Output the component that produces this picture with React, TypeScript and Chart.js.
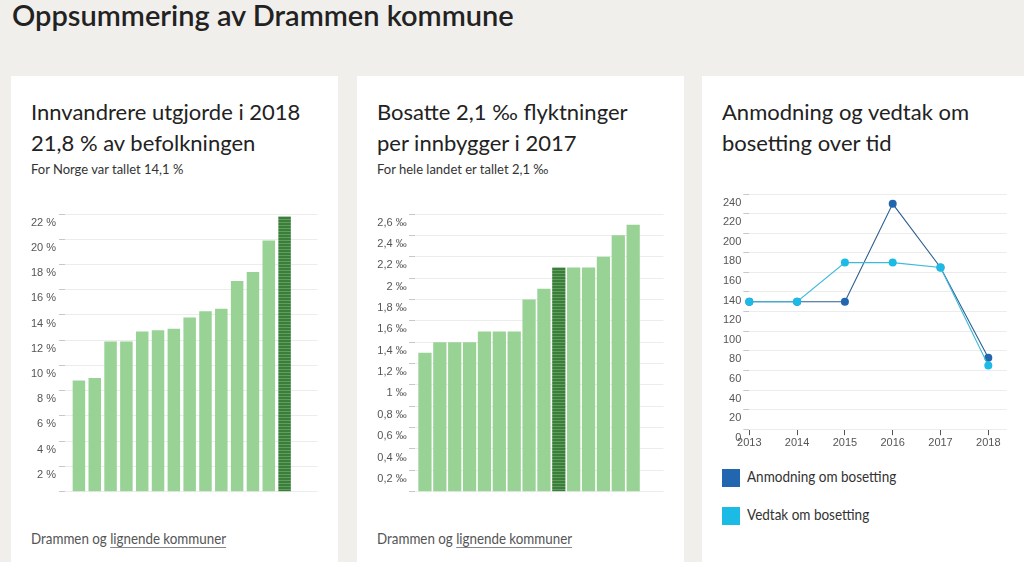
import React, { useEffect, useRef } from "react";
import { Chart, registerables } from "chart.js";

Chart.register(...registerables);

// ---------- data ----------
const pageTitle = "Oppsummering av Drammen kommune";

const immigrantShare = [8.8, 9.0, 11.9, 11.9, 12.7, 12.8, 12.9, 13.8, 14.3, 14.5, 16.7, 17.4, 19.9, 21.8];
const immigrantHighlight = 13; // Drammen
const immigrantMax = 22;
const immigrantStep = 2;

const refugeeRate = [1.3, 1.4, 1.4, 1.4, 1.5, 1.5, 1.5, 1.8, 1.9, 2.1, 2.1, 2.1, 2.2, 2.4, 2.5];
const refugeeHighlight = 9; // Drammen
const refugeeMax = 2.6;
const refugeeStep = 0.2;

const years = [2013, 2014, 2015, 2016, 2017, 2018];
const requested = [130, 130, 130, 230, 165, 73];
const decided = [130, 130, 170, 170, 165, 65];
const settleMax = 240;
const settleStep = 20;
const seriesNames = ["Anmodning om bosetting", "Vedtak om bosetting"];

// ---------- styles ----------
const LIGHT_GREEN = "#98d295";
const DARK_GREEN = "#3c7d3c";
const STRIPE_GREEN = "#5f9f5d";
const DARK_BLUE = "#2166ae";
const CYAN = "#1cbbe6";
const GRID = "#ececec";
const TICK = "#c8c8c8";
const TICK_FONT = { family: "'Liberation Sans', Arial, sans-serif", size: 11 };

function makePattern(ctx: CanvasRenderingContext2D) {
  const pc = document.createElement("canvas");
  pc.width = 4;
  pc.height = 3;
  const g = pc.getContext("2d")!;
  g.fillStyle = DARK_GREEN;
  g.fillRect(0, 0, 4, 3);
  g.fillStyle = STRIPE_GREEN;
  g.fillRect(0, 2, 4, 1);
  return ctx.createPattern(pc, "repeat");
}

function fixYAxis(width: number) {
  return (s: any) => {
    s.width = width;
    s.paddingTop = 0;
    s.paddingBottom = 0;
  };
}

function barConfig(
  ctx: CanvasRenderingContext2D,
  values: number[],
  highlight: number,
  max: number,
  step: number,
  fmt: (v: number) => string,
  opts: { axisWidth: number; xMin: number; xMax: number; barPct: number; tickPad: number }
) {
  const pattern = makePattern(ctx);
  return {
    type: "bar",
    data: {
      datasets: [
        {
          data: values.map((v, i) => ({ x: i, y: v })),
          backgroundColor: values.map((_, i) => (i === highlight ? pattern : LIGHT_GREEN)),
          borderWidth: 0,
          categoryPercentage: 1,
          barPercentage: opts.barPct,
        },
      ],
    },
    options: {
      animation: false,
      responsive: true,
      maintainAspectRatio: false,
      layout: { padding: { top: 9, right: 9.5, bottom: 4.3, left: 0 } },
      plugins: { legend: { display: false }, tooltip: { enabled: false } },
      scales: {
        x: { type: "linear", display: false, min: opts.xMin, max: opts.xMax, offset: false },
        y: {
          min: 0,
          max,
          border: { display: false },
          grid: { color: GRID, tickColor: TICK, tickLength: 6, lineWidth: 1 },
          ticks: {
            stepSize: step,
            labelOffset: 8.5,
            padding: opts.tickPad,
            color: "#555",
            font: TICK_FONT,
            callback: (v: number) => (v === 0 ? "" : fmt(v)),
          },
          afterFit: fixYAxis(opts.axisWidth),
        },
      },
    },
  };
}

function lineConfig() {
  const mk = (label: string, vals: number[], color: string, line: string, order: number) => ({
    label,
    data: years.map((y, i) => ({ x: y, y: vals[i] })),
    borderColor: line,
    backgroundColor: color,
    pointBackgroundColor: color,
    pointBorderWidth: 0,
    pointRadius: 4,
    borderWidth: 1.1,
    tension: 0,
    order,
    clip: false,
  });
  return {
    type: "line",
    data: {
      datasets: [
        mk(seriesNames[0], requested, DARK_BLUE, "#2d5f90", 1),
        mk(seriesNames[1], decided, CYAN, "#3cb9dc", 0),
      ],
    },
    options: {
      animation: false,
      responsive: true,
      maintainAspectRatio: false,
      layout: { padding: { top: 9, right: 11.3, bottom: 4.6, left: 0 } },
      plugins: { legend: { display: false }, tooltip: { enabled: false } },
      scales: {
        x: {
          type: "linear",
          min: years[0],
          max: years[years.length - 1] + 0.385,
          offset: false,
          border: { display: false },
          grid: { drawOnChartArea: false, tickColor: "#555", tickLength: 6 },
          ticks: {
            stepSize: 1,
            includeBounds: false,
            padding: 1,
            color: "#555",
            font: TICK_FONT,
            maxRotation: 0,
            callback: (v: number) => String(v),
          },
        },
        y: {
          min: 0,
          max: settleMax,
          border: { display: false },
          grid: { color: GRID, tickColor: TICK, tickLength: 6 },
          ticks: {
            stepSize: settleStep,
            labelOffset: 8.5,
            padding: 2,
            color: "#555",
            font: TICK_FONT,
            callback: (v: number) => String(v),
          },
          afterFit: fixYAxis(27.3),
        },
      },
    },
  };
}

function ChartBox({
  make,
  style,
}: {
  make: (ctx: CanvasRenderingContext2D) => any;
  style: React.CSSProperties;
}) {
  const ref = useRef<HTMLCanvasElement>(null);
  useEffect(() => {
    const canvas = ref.current!;
    const ctx = canvas.getContext("2d")!;
    const chart = new Chart(ctx, make(ctx));
    return () => chart.destroy();
  }, []);
  return (
    <div style={{ position: "absolute", ...style }}>
      <canvas ref={ref} />
    </div>
  );
}

const cardStyle = (left: number): React.CSSProperties => ({
  position: "absolute",
  left,
  top: 76,
  width: 327,
  height: 520,
  background: "#fff",
});

const headingStyle: React.CSSProperties = {
  position: "absolute",
  left: 20,
  top: 20,
  fontSize: 22,
  lineHeight: "31px",
  color: "#222",
  whiteSpace: "nowrap",
};

const subStyle: React.CSSProperties = {
  position: "absolute",
  left: 20,
  top: 85,
  fontSize: 13,
  lineHeight: "16px",
  color: "#333",
  whiteSpace: "nowrap",
};

const condensed: React.CSSProperties = {
  display: "inline-block",
  transform: "scaleX(0.89)",
  transformOrigin: "left center",
  whiteSpace: "nowrap",
};

const footStyle: React.CSSProperties = {
  position: "absolute",
  left: 20,
  top: 452,
  fontSize: 15,
  lineHeight: "20px",
  color: "#555",
  whiteSpace: "nowrap",
};

const linkStyle: React.CSSProperties = {
  textDecoration: "underline",
  textDecorationColor: "#888",
  textUnderlineOffset: 3,
};

function Footer() {
  return (
    <div style={footStyle}>
      <span style={condensed}>
        Drammen og <span style={linkStyle}>lignende kommuner</span>
      </span>
    </div>
  );
}

function LegendRow({ top, color, text }: { top: number; color: string; text: string }) {
  return (
    <div style={{ position: "absolute", left: 19.5, top, height: 18, display: "flex", alignItems: "center" }}>
      <span style={{ display: "inline-block", width: 18, height: 18, background: color, flex: "none" }} />
      <span
        style={{
          ...condensed,
          transform: "scaleX(0.9)",
          marginLeft: 7.5,
          fontSize: 15,
          lineHeight: "18px",
          color: "#333",
          position: "relative",
          top: -2,
        }}
      >
        {text}
      </span>
    </div>
  );
}

const fmtPct = (v: number) => `${v} %`;
const fmtPermille = (v: number) => `${String(Math.round(v * 10) / 10).replace(".", ",")} ‰`;

export default function App() {
  return (
    <div
      style={{
        position: "fixed",
        left: 0,
        top: 0,
        width: 1024,
        height: 562,
        overflow: "hidden",
        background: "#f1efec",
        fontFamily: "Lato, 'Noto Sans', sans-serif",
      }}
    >
      <div
        style={{
          position: "absolute",
          left: 12,
          top: -2.7,
          fontSize: 29,
          lineHeight: "35px",
          fontWeight: 600,
          color: "#222",
          whiteSpace: "nowrap",
        }}
      >
        {pageTitle}
      </div>

      <div style={cardStyle(11)}>
        <div style={headingStyle}>
          Innvandrere utgjorde i 2018
          <br />
          21,8 % av befolkningen
        </div>
        <div style={subStyle}>For Norge var tallet 14,1 %</div>
        <ChartBox
          style={{ left: 20, top: 129, width: 296, height: 291 }}
          make={(ctx) =>
            barConfig(ctx, immigrantShare, immigrantHighlight, immigrantMax, immigrantStep, fmtPct, {
              axisWidth: 34,
              xMin: -0.88,
              xMax: 15.08,
              barPct: 0.79,
              tickPad: 3,
            })
          }
        />
        <Footer />
      </div>

      <div style={cardStyle(357)}>
        <div style={headingStyle}>
          Bosatte 2,1 ‰ flyktninger
          <br />
          per innbygger i 2017
        </div>
        <div style={subStyle}>For hele landet er tallet 2,1 ‰</div>
        <ChartBox
          style={{ left: 20, top: 129, width: 296, height: 291 }}
          make={(ctx) =>
            barConfig(ctx, refugeeRate, refugeeHighlight, refugeeMax, refugeeStep, fmtPermille, {
              axisWidth: 38,
              xMin: -0.67,
              xMax: 16.04,
              barPct: 0.89,
              tickPad: 2.3,
            })
          }
        />
        <Footer />
      </div>

      <div style={cardStyle(702)}>
        <div style={headingStyle}>
          Anmodning og vedtak om
          <br />
          bosetting over tid
        </div>
        <ChartBox style={{ left: 20, top: 109, width: 296, height: 270 }} make={() => lineConfig()} />
        <LegendRow top={393} color={DARK_BLUE} text={seriesNames[0]} />
        <LegendRow top={430.7} color={CYAN} text={seriesNames[1]} />
      </div>
    </div>
  );
}
